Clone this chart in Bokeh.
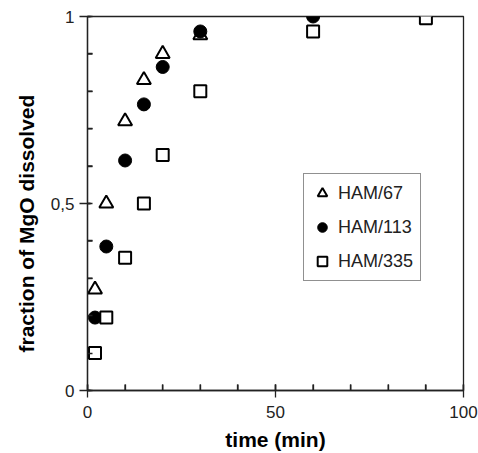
from bokeh.plotting import figure
from bokeh.models import Legend, LegendItem, SingleIntervalTicker, Range1d, Title
from bokeh.embed import file_html
from bokeh.resources import INLINE

# data
t67 = [2, 5, 10, 15, 20, 30]
f67 = [0.27, 0.50, 0.72, 0.83, 0.90, 0.95]
t113 = [2, 5, 10, 15, 20, 30, 60]
f113 = [0.195, 0.385, 0.615, 0.765, 0.865, 0.96, 1.0]
t335 = [2, 5, 10, 15, 20, 30, 60, 90]
f335 = [0.10, 0.195, 0.355, 0.50, 0.63, 0.80, 0.96, 0.995]
labels = ["HAM/67", "HAM/113", "HAM/335"]
x_major = [0, 50, 100]
x_minor = [10, 20, 30, 40, 60, 70, 80, 90]
y_major = [0, 0.5, 1]
y_minor = [0.1, 0.2, 0.3, 0.4, 0.6, 0.7, 0.8, 0.9]
y_tick_labels = {0: "0", 0.5: "0,5", 1: "1"}

FONT = "Liberation Sans"
INK = "#222222"
W, H = 478, 453
ML, MR, MT, MB = 87, 15, 16, 63
X0, X1, Y0, Y1 = 0, 100, 0, 1
px_x = (W - ML - MR) / (X1 - X0)
px_y = (H - MT - MB) / (Y1 - Y0)

p = figure(width=W, height=H, output_backend="svg", toolbar_location=None,
           x_range=Range1d(X0, X1), y_range=Range1d(Y0, Y1),
           min_border_left=ML, min_border_right=MR, min_border_top=MT, min_border_bottom=MB)
p.grid.visible = False
p.outline_line_color = INK
p.outline_line_width = 1.3

# inward tick marks drawn as marker glyphs through the data scales
p.scatter(x=x_major + x_minor, y=[Y0] * (len(x_major) + len(x_minor)),
          marker="dash", angle=1.5708, size=12, line_color=INK, line_width=1.5)
p.scatter(x=[X0] * len(y_minor), y=y_minor,
          marker="dash", size=10, line_color=INK, line_width=1.5)
p.scatter(x=[X0] * len(y_major), y=y_major,
          marker="dash", size=6, line_color=INK, line_width=1.5)

r1 = p.scatter(t67, f67, marker="triangle", size=14, fill_color="white",
               line_color="black", line_width=2)
r2 = p.scatter(t113, f113, marker="circle", size=13, fill_color="black",
               line_color="black")
r3 = p.scatter(t335, f335, marker="square", size=12, fill_color="white",
               line_color="black", line_width=2)

xa = p.xaxis[0]
xa.ticker = SingleIntervalTicker(interval=50, num_minor_ticks=5)
xa.major_tick_in = 6
xa.major_tick_out = 7
xa.minor_tick_in = 6
xa.minor_tick_out = 0
xa.axis_label = "time (min)"

ya = p.yaxis[0]
ya.ticker = SingleIntervalTicker(interval=0.5, num_minor_ticks=5)
ya.major_label_overrides = y_tick_labels
ya.major_tick_in = 3
ya.major_tick_out = 8
ya.minor_tick_in = 5
ya.minor_tick_out = 0

for ax in (xa, ya):
    ax.axis_line_color = INK
    ax.axis_line_width = 1.3
    ax.major_tick_line_color = INK
    ax.major_tick_line_width = 1.3
    ax.minor_tick_line_color = INK
    ax.minor_tick_line_width = 1.3
    ax.major_label_text_font = FONT
    ax.major_label_text_font_size = "17px"
    ax.major_label_text_color = INK
    ax.axis_label_text_font = FONT
    ax.axis_label_text_font_size = "21px"
    ax.axis_label_text_font_style = "bold"
    ax.axis_label_text_color = "black"

xa.major_label_standoff = 8
xa.axis_label_standoff = 7
ya.major_label_standoff = 5

ytitle = Title(text="fraction of MgO dissolved", align="left", offset=38, standoff=20,
               text_font=FONT, text_font_size="21px", text_font_style="bold",
               text_color="black")
p.add_layout(ytitle, "left")

legend = Legend(items=[LegendItem(label=labels[0], renderers=[r1]),
                       LegendItem(label=labels[1], renderers=[r2]),
                       LegendItem(label=labels[2], renderers=[r3])],
                location=(216, 109))
legend.border_line_color = INK
legend.border_line_width = 1.3
legend.label_text_font = FONT
legend.label_text_font_size = "18px"
legend.label_text_color = INK
legend.glyph_width = 24
legend.glyph_height = 26
legend.label_height = 26
legend.spacing = 8
legend.padding = 6
legend.margin = 0
legend.label_standoff = 4
legend.label_width = 76
p.add_layout(legend)

open("out.html", "w").write(file_html(p, INLINE))
